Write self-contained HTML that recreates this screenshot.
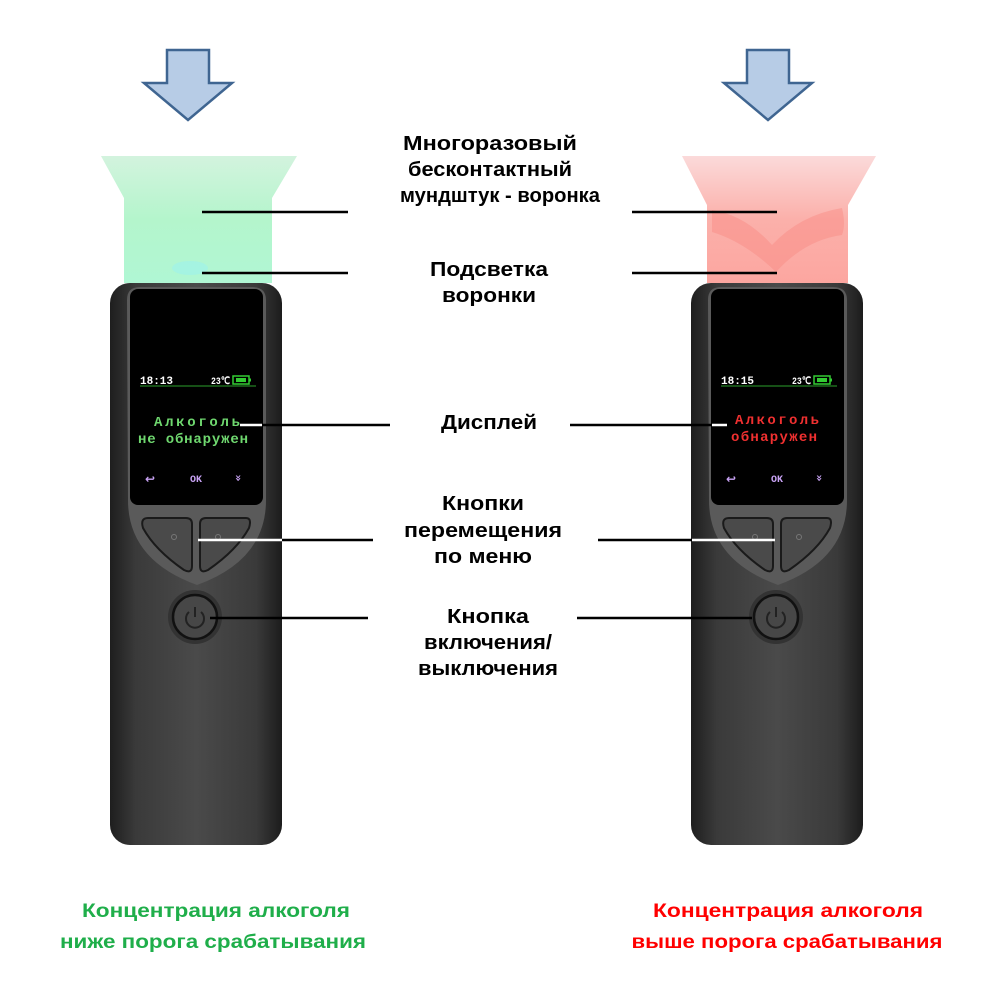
<!DOCTYPE html>
<html><head><meta charset="utf-8"><style>
html,body{margin:0;padding:0;background:#fff;}
svg{display:block;}
.lbl{font-family:"Liberation Sans",sans-serif;font-weight:bold;font-size:20px;fill:#000;}
.cap{font-family:"Liberation Sans",sans-serif;font-weight:bold;font-size:19px;}
.scr{font-family:"Liberation Mono",monospace;}
</style></head><body>
<svg width="1000" height="1000" viewBox="0 0 1000 1000" xmlns="http://www.w3.org/2000/svg">
<defs>
<linearGradient id="body" x1="0" x2="1" y1="0" y2="0">
<stop offset="0" stop-color="#1e1e1e"/><stop offset="0.15" stop-color="#3a3a3a"/><stop offset="0.5" stop-color="#4a4a4a"/><stop offset="0.85" stop-color="#3a3a3a"/><stop offset="1" stop-color="#1c1c1c"/>
</linearGradient>
<linearGradient id="gf" x1="0" x2="0" y1="0" y2="1"><stop offset="0" stop-color="#d3f3de"/><stop offset="0.5" stop-color="#b4f5cc"/><stop offset="1" stop-color="#b0f7d4"/></linearGradient>
<linearGradient id="rf" x1="0" x2="0" y1="0" y2="1"><stop offset="0" stop-color="#fbdada"/><stop offset="0.5" stop-color="#fbb0aa"/><stop offset="1" stop-color="#fca6a0"/></linearGradient>
<g id="dev">
  <rect x="110" y="283" width="172" height="562" rx="20" fill="url(#body)"/>
  <path d="M127 300 Q127 287 140 287 L252 287 Q266 287 266 300 L266 500 Q266 560 197 585 Q128 560 128 500 Z" fill="#5a5a5a"/>
  <rect x="130" y="289" width="133" height="216" rx="8" fill="#000"/>
  <path d="M148 518 L186 518 Q192 518 192 524 L192 566 Q192 574 184 570 Q155 550 143 528 Q140 518 148 518 Z" fill="#4a4a4a" stroke="#1a1a1a" stroke-width="2"/>
  <path d="M246 518 L206 518 Q200 518 200 524 L200 566 Q200 574 208 570 Q237 550 249 528 Q252 518 246 518 Z" fill="#4a4a4a" stroke="#1a1a1a" stroke-width="2"/>
  <circle cx="174" cy="537" r="2.5" fill="none" stroke="#777"/>
  <circle cx="218" cy="537" r="2.5" fill="none" stroke="#777"/>
  <circle cx="195" cy="617" r="27" fill="#333"/>
  <circle cx="195" cy="617" r="22" fill="#474747" stroke="#111" stroke-width="2.5"/>
  <path d="M189 612 A9 9 0 1 0 201 612" fill="none" stroke="#222" stroke-width="2"/>
  <line x1="195" y1="607" x2="195" y2="617" stroke="#222" stroke-width="2"/>
  <line x1="140" y1="386" x2="256" y2="386" stroke="#1d6b1d" stroke-width="1.5"/>
  <text x="211" y="384" class="scr" font-size="10" font-weight="bold" fill="#fff" textLength="19" lengthAdjust="spacingAndGlyphs">23℃</text>
  <rect x="233" y="376" width="16" height="8" fill="none" stroke="#3c3" stroke-width="1.5"/>
  <rect x="236" y="378" width="10" height="4" fill="#3c3"/>
  <rect x="249" y="378.5" width="2" height="3" fill="#3c3"/>
  <text x="150" y="483" font-family="DejaVu Sans,sans-serif" font-size="12" font-weight="bold" fill="#c9a3f5" text-anchor="middle">↩</text>
  <text x="196" y="482" class="scr" font-size="10" font-weight="bold" fill="#c9a3f5" text-anchor="middle">OK</text>
  <text x="239" y="482" font-family="DejaVu Sans,sans-serif" font-size="11" font-weight="bold" fill="#c9a3f5" text-anchor="middle" transform="rotate(90 239 478)">»</text>
</g>
<g id="arrow">
  <path d="M167 50 L209 50 L209 83 L232 83 L188 120 L144 83 L167 83 Z" fill="#b7cce6" stroke="#3f6591" stroke-width="2.5"/>
</g>
</defs>

<use href="#arrow"/>
<use href="#arrow" transform="translate(580 0)"/>

<path d="M101 156 L297 156 L272 198 L272 283 L124 283 L124 198 Z" fill="url(#gf)"/>
<ellipse cx="190" cy="268" rx="18" ry="7" fill="#9ff2e8" opacity="0.7"/>
<path d="M682 156 L876 156 L848 205 L848 283 L707 283 L707 205 Z" fill="url(#rf)"/>
<path d="M712 210 Q745 215 772 245 Q800 215 842 208 Q846 225 842 235 Q805 240 776 272 Q745 242 712 232 Z" fill="#f98a82" opacity="0.45"/>

<use href="#dev"/>
<use href="#dev" transform="translate(581 0)"/>

<text x="140" y="384" class="scr" font-size="11" font-weight="bold" fill="#fff">18:13</text>
<text x="721" y="384" class="scr" font-size="11" font-weight="bold" fill="#fff">18:15</text>
<text x="197" y="426" class="scr" font-size="14" font-weight="bold" fill="#6fd86f" text-anchor="middle" textLength="86" lengthAdjust="spacing">Алкоголь</text>
<text x="193" y="443" class="scr" font-size="14" font-weight="bold" fill="#6fd86f" text-anchor="middle" textLength="110" lengthAdjust="spacing">не обнаружен</text>
<text x="777" y="424" class="scr" font-size="14" font-weight="bold" fill="#f03030" text-anchor="middle" textLength="84" lengthAdjust="spacing">Алкоголь</text>
<text x="774" y="441" class="scr" font-size="14" font-weight="bold" fill="#f03030" text-anchor="middle" textLength="86" lengthAdjust="spacing">обнаружен</text>

<g stroke-width="2.5">
<line x1="202" y1="212" x2="348" y2="212" stroke="#000"/>
<line x1="202" y1="273" x2="348" y2="273" stroke="#000"/>
<line x1="240" y1="425" x2="262" y2="425" stroke="#fff"/>
<line x1="262" y1="425" x2="390" y2="425" stroke="#000"/>
<line x1="198" y1="540" x2="282" y2="540" stroke="#fff"/>
<line x1="282" y1="540" x2="373" y2="540" stroke="#000"/>
<line x1="210" y1="618" x2="368" y2="618" stroke="#000"/>
<line x1="632" y1="212" x2="777" y2="212" stroke="#000"/>
<line x1="632" y1="273" x2="777" y2="273" stroke="#000"/>
<line x1="570" y1="425" x2="712" y2="425" stroke="#000"/>
<line x1="712" y1="425" x2="727" y2="425" stroke="#fff"/>
<line x1="598" y1="540" x2="692" y2="540" stroke="#000"/>
<line x1="692" y1="540" x2="775" y2="540" stroke="#fff"/>
<line x1="577" y1="618" x2="752" y2="618" stroke="#000"/>
</g>

<g class="lbl" text-anchor="middle">
<text x="490" y="150" textLength="174" lengthAdjust="spacingAndGlyphs">Многоразовый</text>
<text x="490" y="176" textLength="164" lengthAdjust="spacingAndGlyphs">бесконтактный</text>
<text x="500" y="202" textLength="200" lengthAdjust="spacingAndGlyphs">мундштук - воронка</text>
<text x="489" y="276" textLength="118" lengthAdjust="spacingAndGlyphs">Подсветка</text>
<text x="489" y="302" textLength="94" lengthAdjust="spacingAndGlyphs">воронки</text>
<text x="489" y="429" textLength="96" lengthAdjust="spacingAndGlyphs">Дисплей</text>
<text x="483" y="510" textLength="82" lengthAdjust="spacingAndGlyphs">Кнопки</text>
<text x="483" y="537" textLength="158" lengthAdjust="spacingAndGlyphs">перемещения</text>
<text x="483" y="563" textLength="98" lengthAdjust="spacingAndGlyphs">по меню</text>
<text x="488" y="623" textLength="82" lengthAdjust="spacingAndGlyphs">Кнопка</text>
<text x="488" y="649" textLength="128" lengthAdjust="spacingAndGlyphs">включения/</text>
<text x="488" y="675" textLength="140" lengthAdjust="spacingAndGlyphs">выключения</text>
</g>

<g class="cap" text-anchor="middle">
<text x="216" y="917" fill="#1fae4a" textLength="268" lengthAdjust="spacingAndGlyphs">Концентрация алкоголя</text>
<text x="213" y="948" fill="#1fae4a" textLength="306" lengthAdjust="spacingAndGlyphs">ниже порога срабатывания</text>
<text x="788" y="917" fill="#ff0000" textLength="270" lengthAdjust="spacingAndGlyphs">Концентрация алкоголя</text>
<text x="787" y="948" fill="#ff0000" textLength="311" lengthAdjust="spacingAndGlyphs">выше порога срабатывания</text>
</g>
</svg>
</body></html>
